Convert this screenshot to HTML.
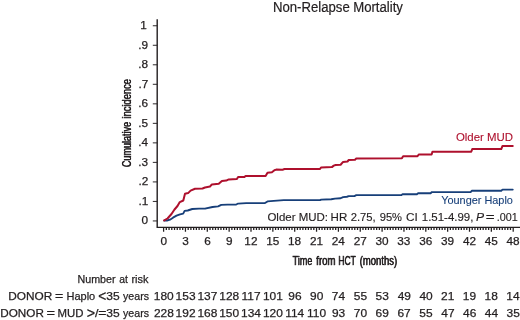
<!DOCTYPE html>
<html lang="en"><head><meta charset="utf-8"><title>Non-Relapse Mortality</title>
<style>html,body{margin:0;padding:0;background:#fff}body{width:520px;height:320px;overflow:hidden;position:relative}svg{display:block;position:absolute;left:0;top:0}.t{-webkit-text-stroke:.3px #231f20;position:absolute;left:0;top:0;margin:0;padding:0;line-height:1;white-space:pre;font-family:"Liberation Sans",Arial,Helvetica,sans-serif;color:#231f20;transform-origin:0 0}text{font-family:"Liberation Sans",Arial,Helvetica,sans-serif;fill:currentColor;stroke:currentColor;stroke-width:.25px;stroke-linejoin:round}</style></head><body>
<svg width="520" height="320" viewBox="0 0 520 320" color="#231f20">
<rect width="520" height="320" fill="#fff"/>
<g stroke="#231f20" fill="none">
<path d="M157.20 19.2V227.40 H520" stroke-width="1.4" stroke-linejoin="miter"/>
<path d="M152.80 220.95H157.20M152.80 201.43H157.20M152.80 181.91H157.20M152.80 162.39H157.20M152.80 142.87H157.20M152.80 123.35H157.20M152.80 103.83H157.20M152.80 84.31H157.20M152.80 64.79H157.20M152.80 45.27H157.20M152.80 25.75H157.20" stroke-width="0.95"/>
<path d="M163.60 227.40V231.80M185.45 227.40V231.80M207.30 227.40V231.80M229.15 227.40V231.80M251.00 227.40V231.80M272.85 227.40V231.80M294.70 227.40V231.80M316.55 227.40V231.80M338.40 227.40V231.80M360.25 227.40V231.80M382.10 227.40V231.80M403.95 227.40V231.80M425.80 227.40V231.80M447.65 227.40V231.80M469.50 227.40V231.80M491.35 227.40V231.80M513.20 227.40V231.80" stroke-width="1.25"/>
<path d="M166.33 227.40V230.10M169.06 227.40V230.10M171.79 227.40V230.10M174.53 227.40V230.10M177.26 227.40V230.10M179.99 227.40V230.10M182.72 227.40V230.10M188.18 227.40V230.10M190.91 227.40V230.10M193.64 227.40V230.10M196.38 227.40V230.10M199.11 227.40V230.10M201.84 227.40V230.10M204.57 227.40V230.10M210.03 227.40V230.10M212.76 227.40V230.10M215.49 227.40V230.10M218.22 227.40V230.10M220.96 227.40V230.10M223.69 227.40V230.10M226.42 227.40V230.10M231.88 227.40V230.10M234.61 227.40V230.10M237.34 227.40V230.10M240.07 227.40V230.10M242.81 227.40V230.10M245.54 227.40V230.10M248.27 227.40V230.10M253.73 227.40V230.10M256.46 227.40V230.10M259.19 227.40V230.10M261.93 227.40V230.10M264.66 227.40V230.10M267.39 227.40V230.10M270.12 227.40V230.10M275.58 227.40V230.10M278.31 227.40V230.10M281.04 227.40V230.10M283.77 227.40V230.10M286.51 227.40V230.10M289.24 227.40V230.10M291.97 227.40V230.10M297.43 227.40V230.10M300.16 227.40V230.10M302.89 227.40V230.10M305.62 227.40V230.10M308.36 227.40V230.10M311.09 227.40V230.10M313.82 227.40V230.10M319.28 227.40V230.10M322.01 227.40V230.10M324.74 227.40V230.10M327.48 227.40V230.10M330.21 227.40V230.10M332.94 227.40V230.10M335.67 227.40V230.10M341.13 227.40V230.10M343.86 227.40V230.10M346.59 227.40V230.10M349.33 227.40V230.10M352.06 227.40V230.10M354.79 227.40V230.10M357.52 227.40V230.10M362.98 227.40V230.10M365.71 227.40V230.10M368.44 227.40V230.10M371.18 227.40V230.10M373.91 227.40V230.10M376.64 227.40V230.10M379.37 227.40V230.10M384.83 227.40V230.10M387.56 227.40V230.10M390.29 227.40V230.10M393.02 227.40V230.10M395.76 227.40V230.10M398.49 227.40V230.10M401.22 227.40V230.10M406.68 227.40V230.10M409.41 227.40V230.10M412.14 227.40V230.10M414.88 227.40V230.10M417.61 227.40V230.10M420.34 227.40V230.10M423.07 227.40V230.10M428.53 227.40V230.10M431.26 227.40V230.10M433.99 227.40V230.10M436.73 227.40V230.10M439.46 227.40V230.10M442.19 227.40V230.10M444.92 227.40V230.10M450.38 227.40V230.10M453.11 227.40V230.10M455.84 227.40V230.10M458.58 227.40V230.10M461.31 227.40V230.10M464.04 227.40V230.10M466.77 227.40V230.10M472.23 227.40V230.10M474.96 227.40V230.10M477.69 227.40V230.10M480.43 227.40V230.10M483.16 227.40V230.10M485.89 227.40V230.10M488.62 227.40V230.10M494.08 227.40V230.10M496.81 227.40V230.10M499.54 227.40V230.10M502.27 227.40V230.10M505.01 227.40V230.10M507.74 227.40V230.10M510.47 227.40V230.10" stroke-width="1.3"/>
</g>
<polyline points="164.20,220.55 167.00,220.50 170.00,219.65 173.00,217.65 176.50,215.65 180.00,214.30 183.20,213.70 184.60,210.90 187.75,210.50 192.25,209.00 199.00,208.65 205.00,208.70 212.50,207.00 218.10,206.40 221.25,204.90 227.50,204.55 236.25,204.55 238.10,203.55 246.25,203.05 265.00,203.05 267.50,201.40 273.75,200.85 283.75,200.15 320.00,200.15 321.25,199.55 331.25,199.25 335.00,198.55 340.60,198.25 343.10,197.05 346.90,196.75 348.75,196.15 354.40,196.05 356.25,195.15 401.25,195.15 402.50,194.25 416.90,194.25 418.10,193.25 430.60,193.25 431.90,192.05 470.60,192.05 471.90,190.75 501.25,190.75 502.50,189.55 512.75,189.55" fill="none" stroke="#173f79" stroke-width="1.85" stroke-linejoin="round" stroke-linecap="round"/>
<polyline points="164.20,220.40 167.50,218.50 171.50,214.00 174.50,209.50 177.50,206.00 179.80,202.10 183.30,200.50 185.00,193.75 188.10,193.10 190.60,190.60 195.00,188.75 202.50,188.50 205.00,187.50 210.00,186.50 211.90,184.40 218.75,183.75 221.90,180.90 226.25,180.60 228.75,179.40 236.90,179.10 238.10,177.10 244.40,177.10 245.60,176.00 265.60,176.00 267.50,172.75 271.90,172.25 274.40,170.25 276.25,169.60 282.50,169.85 284.40,169.00 320.00,169.00 321.00,167.50 331.90,167.10 333.75,165.60 335.60,165.00 340.60,164.75 343.10,161.90 347.50,161.50 348.75,160.00 355.00,159.75 356.25,158.50 401.90,158.25 403.10,156.25 417.50,156.25 418.75,154.45 431.60,154.45 432.50,151.65 471.25,151.65 472.25,149.05 501.25,149.05 502.50,145.95 512.75,145.95" fill="none" stroke="#ae102d" stroke-width="2.0" stroke-linejoin="round" stroke-linecap="round"/>
<g>
<text x="272.95" y="11.85" font-size="13.80" textLength="76.82" lengthAdjust="spacingAndGlyphs" style="stroke-width:0.2px">Non-Relapse</text>
<text x="353.20" y="11.85" font-size="13.80" textLength="49.76" lengthAdjust="spacingAndGlyphs" style="stroke-width:0.2px">Mortality</text>
</g>
<g style="color:#ae102d">
<text x="455.93" y="140.50" font-size="11.80" textLength="57.15" lengthAdjust="spacingAndGlyphs" style="stroke-width:0.1px">Older MUD</text>
</g>
<g style="color:#173f79">
<text x="441.17" y="204.35" font-size="11.80" textLength="71.76" lengthAdjust="spacingAndGlyphs" style="stroke-width:0.1px">Younger Haplo</text>
</g>
<g>
<text x="267.43" y="221.00" font-size="11.30" textLength="60.64" lengthAdjust="spacingAndGlyphs" style="stroke-width:0.15px">Older MUD:</text>
<text x="330.57" y="221.00" font-size="11.30" textLength="16.70" lengthAdjust="spacingAndGlyphs" style="stroke-width:0.15px">HR</text>
<text x="350.69" y="221.00" font-size="11.30" textLength="25.01" lengthAdjust="spacingAndGlyphs" style="stroke-width:0.15px">2.75,</text>
<text x="379.69" y="221.00" font-size="11.30" textLength="22.31" lengthAdjust="spacingAndGlyphs" style="stroke-width:0.15px">95%</text>
<text x="405.91" y="221.00" font-size="11.30" textLength="11.80" lengthAdjust="spacingAndGlyphs" style="stroke-width:0.15px">CI</text>
<text x="421.84" y="221.00" font-size="11.30" textLength="51.48" lengthAdjust="spacingAndGlyphs" style="stroke-width:0.15px">1.51-4.99,</text>
<text x="476.14" y="221.00" font-size="11.30" textLength="8.10" lengthAdjust="spacingAndGlyphs" font-style="italic" style="stroke-width:0.15px">P</text>
<text x="485.89" y="221.00" font-size="11.30" textLength="8.88" lengthAdjust="spacingAndGlyphs" style="stroke-width:0.15px">=</text>
<text x="496.78" y="221.00" font-size="11.30" textLength="20.97" lengthAdjust="spacingAndGlyphs" style="stroke-width:0.15px">.001</text>
</g>
<g>
<text x="77.49" y="282.70" font-size="11.10" textLength="38.03" lengthAdjust="spacingAndGlyphs">Number</text>
<text x="119.23" y="282.70" font-size="11.10" textLength="8.66" lengthAdjust="spacingAndGlyphs">at</text>
<text x="131.38" y="282.70" font-size="11.10" textLength="17.18" lengthAdjust="spacingAndGlyphs">risk</text>
</g>
<g>
<text x="8.31" y="299.55" font-size="11.20" textLength="43.96" lengthAdjust="spacingAndGlyphs">DONOR</text>
<text x="55.14" y="299.55" font-size="11.20" textLength="8.27" lengthAdjust="spacingAndGlyphs">=</text>
<text x="66.47" y="299.55" font-size="11.20" textLength="28.75" lengthAdjust="spacingAndGlyphs">Haplo</text>
<text x="98.31" y="300.55" font-size="14.30" textLength="8.05" lengthAdjust="spacingAndGlyphs">&lt;</text>
<text x="106.27" y="299.55" font-size="11.20" textLength="13.39" lengthAdjust="spacingAndGlyphs">35</text>
<text x="123.05" y="299.55" font-size="11.20" textLength="25.98" lengthAdjust="spacingAndGlyphs">years</text>
</g>
<g>
<text x="0.31" y="316.65" font-size="11.20" textLength="43.55" lengthAdjust="spacingAndGlyphs">DONOR</text>
<text x="46.42" y="316.65" font-size="11.20" textLength="8.52" lengthAdjust="spacingAndGlyphs">=</text>
<text x="57.44" y="316.65" font-size="11.20" textLength="25.95" lengthAdjust="spacingAndGlyphs">MUD</text>
<text x="86.79" y="317.65" font-size="14.30" textLength="8.34" lengthAdjust="spacingAndGlyphs">&gt;</text>
<text x="95.00" y="316.65" font-size="11.20" textLength="3.47" lengthAdjust="spacingAndGlyphs">/</text>
<text x="98.30" y="316.65" font-size="11.20" textLength="8.21" lengthAdjust="spacingAndGlyphs">=</text>
<text x="106.27" y="316.65" font-size="11.20" textLength="13.39" lengthAdjust="spacingAndGlyphs">35</text>
<text x="123.05" y="316.65" font-size="11.20" textLength="25.98" lengthAdjust="spacingAndGlyphs">years</text>
</g>
<g>
<text x="141.53" y="224.25" font-size="10.70" textLength="6.55" lengthAdjust="spacingAndGlyphs">0</text>
<text x="138.47" y="204.73" font-size="10.70" textLength="9.82" lengthAdjust="spacingAndGlyphs">.1</text>
<text x="138.47" y="185.21" font-size="10.70" textLength="9.82" lengthAdjust="spacingAndGlyphs">.2</text>
<text x="138.35" y="165.69" font-size="10.70" textLength="9.82" lengthAdjust="spacingAndGlyphs">.3</text>
<text x="138.23" y="146.17" font-size="10.70" textLength="9.82" lengthAdjust="spacingAndGlyphs">.4</text>
<text x="138.35" y="126.65" font-size="10.70" textLength="9.82" lengthAdjust="spacingAndGlyphs">.5</text>
<text x="138.35" y="107.13" font-size="10.70" textLength="9.82" lengthAdjust="spacingAndGlyphs">.6</text>
<text x="138.47" y="87.61" font-size="10.70" textLength="9.82" lengthAdjust="spacingAndGlyphs">.7</text>
<text x="138.35" y="68.09" font-size="10.70" textLength="9.82" lengthAdjust="spacingAndGlyphs">.8</text>
<text x="138.35" y="48.57" font-size="10.70" textLength="9.82" lengthAdjust="spacingAndGlyphs">.9</text>
<text x="140.30" y="29.05" font-size="10.70" textLength="6.55" lengthAdjust="spacingAndGlyphs">1</text>
</g>
<g>
<text x="160.50" y="244.60" font-size="10.70" textLength="6.55" lengthAdjust="spacingAndGlyphs">0</text>
<text x="182.39" y="244.60" font-size="10.70" textLength="6.55" lengthAdjust="spacingAndGlyphs">3</text>
<text x="204.15" y="244.60" font-size="10.70" textLength="6.55" lengthAdjust="spacingAndGlyphs">6</text>
<text x="225.98" y="244.60" font-size="10.70" textLength="6.55" lengthAdjust="spacingAndGlyphs">9</text>
<text x="244.39" y="244.60" font-size="10.70" textLength="13.09" lengthAdjust="spacingAndGlyphs">12</text>
<text x="266.16" y="244.60" font-size="10.70" textLength="13.09" lengthAdjust="spacingAndGlyphs">15</text>
<text x="287.98" y="244.60" font-size="10.70" textLength="13.09" lengthAdjust="spacingAndGlyphs">18</text>
<text x="310.04" y="244.60" font-size="10.70" textLength="13.09" lengthAdjust="spacingAndGlyphs">21</text>
<text x="331.75" y="244.60" font-size="10.70" textLength="13.09" lengthAdjust="spacingAndGlyphs">24</text>
<text x="353.69" y="244.60" font-size="10.70" textLength="13.09" lengthAdjust="spacingAndGlyphs">27</text>
<text x="375.52" y="244.60" font-size="10.70" textLength="13.09" lengthAdjust="spacingAndGlyphs">30</text>
<text x="397.34" y="244.60" font-size="10.70" textLength="13.09" lengthAdjust="spacingAndGlyphs">33</text>
<text x="419.17" y="244.60" font-size="10.70" textLength="13.09" lengthAdjust="spacingAndGlyphs">36</text>
<text x="441.05" y="244.60" font-size="10.70" textLength="13.09" lengthAdjust="spacingAndGlyphs">39</text>
<text x="462.99" y="244.60" font-size="10.70" textLength="13.09" lengthAdjust="spacingAndGlyphs">42</text>
<text x="484.76" y="244.60" font-size="10.70" textLength="13.09" lengthAdjust="spacingAndGlyphs">45</text>
<text x="506.59" y="244.60" font-size="10.70" textLength="13.09" lengthAdjust="spacingAndGlyphs">48</text>
</g>
<g>
<text x="153.75" y="299.70" font-size="11.10" textLength="19.91" lengthAdjust="spacingAndGlyphs">180</text>
<text x="175.64" y="299.70" font-size="11.10" textLength="19.91" lengthAdjust="spacingAndGlyphs">153</text>
<text x="197.47" y="299.70" font-size="11.10" textLength="19.91" lengthAdjust="spacingAndGlyphs">137</text>
<text x="219.30" y="299.70" font-size="11.10" textLength="19.91" lengthAdjust="spacingAndGlyphs">128</text>
<text x="241.61" y="299.70" font-size="11.10" textLength="19.02" lengthAdjust="spacingAndGlyphs">117</text>
<text x="262.96" y="299.70" font-size="11.10" textLength="19.91" lengthAdjust="spacingAndGlyphs">101</text>
<text x="288.26" y="299.70" font-size="11.10" textLength="13.27" lengthAdjust="spacingAndGlyphs">96</text>
<text x="310.09" y="299.70" font-size="11.10" textLength="13.27" lengthAdjust="spacingAndGlyphs">90</text>
<text x="331.86" y="299.70" font-size="11.10" textLength="13.27" lengthAdjust="spacingAndGlyphs">74</text>
<text x="353.81" y="299.70" font-size="11.10" textLength="13.27" lengthAdjust="spacingAndGlyphs">55</text>
<text x="375.64" y="299.70" font-size="11.10" textLength="13.27" lengthAdjust="spacingAndGlyphs">53</text>
<text x="397.65" y="299.70" font-size="11.10" textLength="13.27" lengthAdjust="spacingAndGlyphs">49</text>
<text x="419.42" y="299.70" font-size="11.10" textLength="13.27" lengthAdjust="spacingAndGlyphs">40</text>
<text x="441.13" y="299.70" font-size="11.10" textLength="13.27" lengthAdjust="spacingAndGlyphs">21</text>
<text x="462.79" y="299.70" font-size="11.10" textLength="13.27" lengthAdjust="spacingAndGlyphs">19</text>
<text x="484.56" y="299.70" font-size="11.10" textLength="13.27" lengthAdjust="spacingAndGlyphs">18</text>
<text x="506.33" y="299.70" font-size="11.10" textLength="13.27" lengthAdjust="spacingAndGlyphs">14</text>
</g>
<g>
<text x="153.99" y="316.80" font-size="11.10" textLength="19.91" lengthAdjust="spacingAndGlyphs">228</text>
<text x="175.64" y="316.80" font-size="11.10" textLength="19.91" lengthAdjust="spacingAndGlyphs">192</text>
<text x="197.47" y="316.80" font-size="11.10" textLength="19.91" lengthAdjust="spacingAndGlyphs">168</text>
<text x="219.24" y="316.80" font-size="11.10" textLength="19.91" lengthAdjust="spacingAndGlyphs">150</text>
<text x="241.01" y="316.80" font-size="11.10" textLength="19.91" lengthAdjust="spacingAndGlyphs">134</text>
<text x="262.90" y="316.80" font-size="11.10" textLength="19.91" lengthAdjust="spacingAndGlyphs">120</text>
<text x="285.15" y="316.80" font-size="11.10" textLength="19.02" lengthAdjust="spacingAndGlyphs">114</text>
<text x="307.04" y="316.80" font-size="11.10" textLength="19.02" lengthAdjust="spacingAndGlyphs">110</text>
<text x="331.92" y="316.80" font-size="11.10" textLength="13.27" lengthAdjust="spacingAndGlyphs">93</text>
<text x="353.75" y="316.80" font-size="11.10" textLength="13.27" lengthAdjust="spacingAndGlyphs">70</text>
<text x="375.64" y="316.80" font-size="11.10" textLength="13.27" lengthAdjust="spacingAndGlyphs">69</text>
<text x="397.47" y="316.80" font-size="11.10" textLength="13.27" lengthAdjust="spacingAndGlyphs">67</text>
<text x="419.30" y="316.80" font-size="11.10" textLength="13.27" lengthAdjust="spacingAndGlyphs">55</text>
<text x="441.31" y="316.80" font-size="11.10" textLength="13.27" lengthAdjust="spacingAndGlyphs">47</text>
<text x="463.08" y="316.80" font-size="11.10" textLength="13.27" lengthAdjust="spacingAndGlyphs">46</text>
<text x="484.86" y="316.80" font-size="11.10" textLength="13.27" lengthAdjust="spacingAndGlyphs">44</text>
<text x="506.63" y="316.80" font-size="11.10" textLength="13.27" lengthAdjust="spacingAndGlyphs">35</text>
</g>
</svg>
<div class="t" style="font-size:13.40px;text-shadow:0.55px 0 0 #231f20;transform:translate(292.57px,265.00px) scaleX(0.6699) translateY(-11.34px)">Time</div>
<div class="t" style="font-size:13.40px;text-shadow:0.55px 0 0 #231f20;transform:translate(316.05px,265.00px) scaleX(0.7230) translateY(-11.34px)">from</div>
<div class="t" style="font-size:13.40px;text-shadow:0.55px 0 0 #231f20;transform:translate(338.33px,265.00px) scaleX(0.6278) translateY(-11.34px)">HCT</div>
<div class="t" style="font-size:13.40px;text-shadow:0.55px 0 0 #231f20;transform:translate(359.53px,265.00px) scaleX(0.7084) translateY(-11.34px)">(months)</div>
<div class="t" style="font-size:13.00px;text-shadow:0.55px 0 0 #231f20;transform:translate(131.20px,167.25px) rotate(-90deg) translate(-0.05px,0) scaleX(0.6959) translateY(-11.00px)">Cumulative</div>
<div class="t" style="font-size:13.00px;text-shadow:0.55px 0 0 #231f20;transform:translate(131.20px,167.25px) rotate(-90deg) translate(48.55px,0) scaleX(0.7188) translateY(-11.00px)">incidence</div>
</body></html>
